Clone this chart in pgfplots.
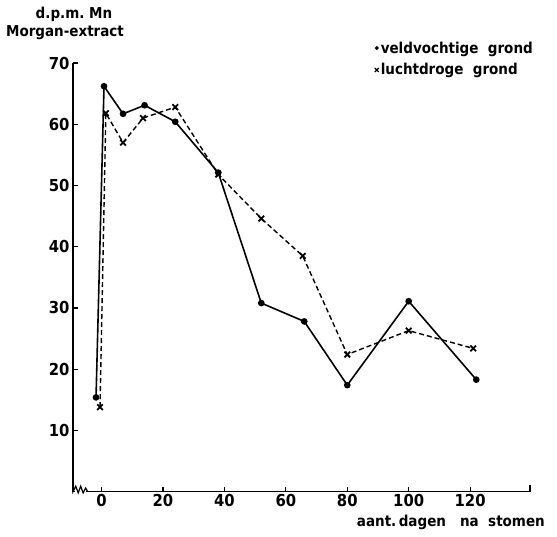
\documentclass[border=0pt]{standalone}
\usepackage{fontspec}
\setmainfont{DejaVu Sans Condensed}
\usepackage{pgfplots}
\pgfplotsset{compat=1.18}
\begin{document}
\begin{tikzpicture}[x=1pt,y=1pt]
\begin{axis}[
  at={(0,0)}, anchor=south west,
  scale only axis, width=457pt, height=428.7pt,
  xmin=-9.3, xmax=139.5, ymin=0, ymax=70,
  axis x line=bottom, axis y line=left,
  axis line style={-, line width=1.4pt},
  xtick={0,20,40,60,80,100,120},
  ytick={10,20,30,40,50,60,70},
  tick align=inside, major tick length=5pt,
  tick style={line width=1.2pt, black},
  /pgf/number format/assume math mode=true,
  ticklabel style={font=\bfseries\fontsize{16.5}{18}\selectfont},
  xticklabel style={yshift=1pt},
  legend style={at={(0.66,1.055)}, anchor=north west, draw=none, fill=none,
    font=\bfseries\fontsize{15}{17}\selectfont, row sep=5pt, inner sep=0pt},
  legend cell align=left,
  clip=false,
]
\addplot[black, line width=1.6pt, mark=*, mark size=2.5pt, forget plot] coordinates {
(-1.8,15.4) (0.8,66.2) (7,61.7) (14,63.1) (24,60.4) (38,52.1) (52,30.8) (66,27.8) (80,17.4) (100,31.1) (122,18.3)};
\addplot[black, line width=1.4pt, dash pattern=on 5pt off 3pt, mark=x, mark size=4pt, mark options={solid, line width=1.8pt}, forget plot] coordinates {
(-0.5,13.8) (1.4,61.8) (7,57) (13.5,61) (24,62.8) (38,51.8) (52,44.6) (65.5,38.5) (80,22.4) (100,26.3) (121,23.4)};
\addlegendimage{only marks, mark=*, mark size=1.8pt, black}
\addlegendentry{veldvochtige\ \ grond}
\addlegendimage{only marks, mark=x, mark size=2.8pt, black, line width=1.2pt}
\addlegendentry{luchtdroge\ \ grond}
% axis break wiggle and right-end tick
\draw[white, line width=3pt] (axis cs:-8.6,0) -- (axis cs:-5,0);
\draw[black, line width=1.2pt] (axis cs:-9.3,1.5) -- (axis cs:-9.3,0) -- (axis cs:-8.4,0.9) -- (axis cs:-7.6,-0.2) -- (axis cs:-6.8,0.9) -- (axis cs:-6,-0.2) -- (axis cs:-5.2,0.6) -- (axis cs:-4.5,0);
\draw[black, line width=1.2pt] (axis cs:139.5,0) -- (axis cs:139.5,1.1);
\end{axis}
\node[font=\bfseries\fontsize{15}{17}\selectfont, inner sep=0pt] at (1,477) {d.p.m.\ Mn};
\node[font=\bfseries\fontsize{15}{17}\selectfont, inner sep=0pt] at (-8,459) {Morgan-extract};
\node[font=\bfseries\fontsize{15}{17}\selectfont, inner sep=0pt, anchor=east] at (472,-31) {aant.\,dagen\ \ \ na\ \ stomen};
\pgfresetboundingbox
\useasboundingbox (-73,-44.3) rectangle (484,491.7);
\end{tikzpicture}
\end{document}
